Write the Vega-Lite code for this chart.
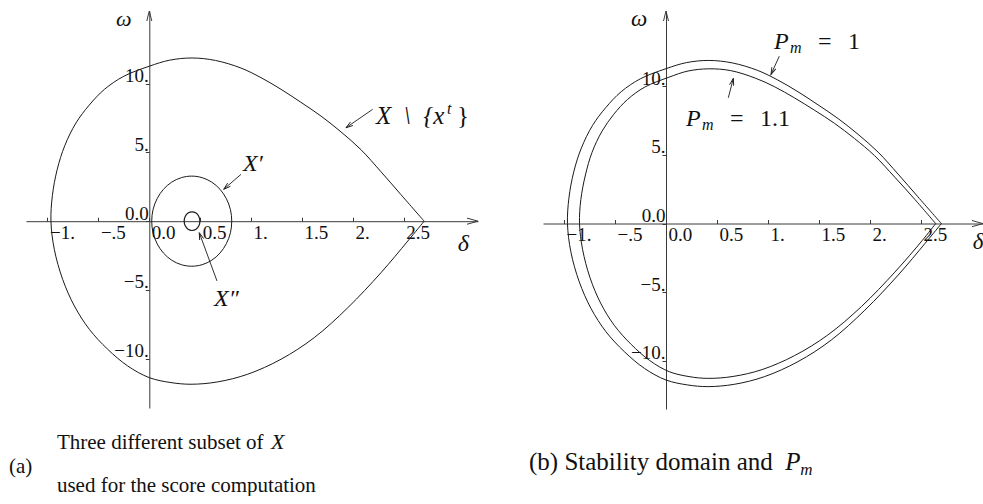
{
  "$schema": "https://vega.github.io/schema/vega-lite/v6.json",
  "padding": {"left": 8, "top": 8, "right": 0, "bottom": 0},
  "bounds": "flush",
  "spacing": 65,
  "config": {
    "view": {"stroke": null},
    "axis": {
      "grid": false,
      "title": null,
      "domainColor": "#3a3a3a",
      "domainWidth": 1,
      "tickColor": "#3a3a3a",
      "labelColor": "#111111",
      "labelFont": "Liberation Serif",
      "labelFontSize": 19,
      "labelFlush": false,
      "labelOverlap": false,
      "labelBound": false
    },
    "text": {"font": "Liberation Serif", "color": "#111111"}
  },
  "datasets": {
    "pm1": [
      {"i": 0, "d": 2.70, "w": 0},
      {"i": 1, "d": 2.47, "w": 1.95},
      {"i": 2, "d": 2.276, "w": 3.6},
      {"i": 3, "d": 2.08, "w": 5.2},
      {"i": 4, "d": 1.883, "w": 6.5},
      {"i": 5, "d": 1.687, "w": 7.65},
      {"i": 6, "d": 1.49, "w": 8.65},
      {"i": 7, "d": 1.294, "w": 9.6},
      {"i": 8, "d": 1.097, "w": 10.45},
      {"i": 9, "d": 0.9, "w": 11.15},
      {"i": 10, "d": 0.65, "w": 11.7},
      {"i": 11, "d": 0.42, "w": 11.88},
      {"i": 12, "d": 0.2, "w": 11.72},
      {"i": 13, "d": 0, "w": 11.28},
      {"i": 14, "d": -0.25, "w": 10.55},
      {"i": 15, "d": -0.44, "w": 9.6},
      {"i": 16, "d": -0.59, "w": 8.45},
      {"i": 17, "d": -0.72, "w": 7.15},
      {"i": 18, "d": -0.83, "w": 5.5},
      {"i": 19, "d": -0.905, "w": 3.75},
      {"i": 20, "d": -0.952, "w": 1.85},
      {"i": 21, "d": -0.966, "w": 0},
      {"i": 22, "d": -0.933, "w": -2.05},
      {"i": 23, "d": -0.851, "w": -4.23},
      {"i": 24, "d": -0.736, "w": -6.17},
      {"i": 25, "d": -0.589, "w": -7.87},
      {"i": 26, "d": -0.409, "w": -9.32},
      {"i": 27, "d": -0.212, "w": -10.54},
      {"i": 28, "d": 0, "w": -11.39},
      {"i": 29, "d": 0.213, "w": -11.75},
      {"i": 30, "d": 0.41, "w": -11.87},
      {"i": 31, "d": 0.672, "w": -11.7},
      {"i": 32, "d": 0.967, "w": -11.14},
      {"i": 33, "d": 1.294, "w": -10.05},
      {"i": 34, "d": 1.62, "w": -8.48},
      {"i": 35, "d": 1.95, "w": -6.3},
      {"i": 36, "d": 2.276, "w": -3.75},
      {"i": 37, "d": 2.54, "w": -1.44},
      {"i": 38, "d": 2.70, "w": 0}
    ],
    "pm11": [
      {"i": 0, "d": 2.644, "w": 0},
      {"i": 1, "d": 2.44, "w": 1.76},
      {"i": 2, "d": 2.243, "w": 3.38},
      {"i": 3, "d": 2.046, "w": 4.94},
      {"i": 4, "d": 1.849, "w": 6.19},
      {"i": 5, "d": 1.652, "w": 7.30},
      {"i": 6, "d": 1.455, "w": 8.26},
      {"i": 7, "d": 1.258, "w": 9.16},
      {"i": 8, "d": 1.063, "w": 9.97},
      {"i": 9, "d": 0.873, "w": 10.6},
      {"i": 10, "d": 0.634, "w": 11.14},
      {"i": 11, "d": 0.42, "w": 11.27},
      {"i": 12, "d": 0.216, "w": 11.11},
      {"i": 13, "d": 0.029, "w": 10.66},
      {"i": 14, "d": -0.208, "w": 9.94},
      {"i": 15, "d": -0.377, "w": 9.04},
      {"i": 16, "d": -0.512, "w": 7.96},
      {"i": 17, "d": -0.627, "w": 6.73},
      {"i": 18, "d": -0.725, "w": 5.19},
      {"i": 19, "d": -0.79, "w": 3.54},
      {"i": 20, "d": -0.835, "w": 1.75},
      {"i": 21, "d": -0.848, "w": 0},
      {"i": 22, "d": -0.818, "w": -1.88},
      {"i": 23, "d": -0.745, "w": -3.94},
      {"i": 24, "d": -0.641, "w": -5.79},
      {"i": 25, "d": -0.508, "w": -7.40},
      {"i": 26, "d": -0.341, "w": -8.80},
      {"i": 27, "d": -0.16, "w": -9.97},
      {"i": 28, "d": 0.031, "w": -10.78},
      {"i": 29, "d": 0.226, "w": -11.14},
      {"i": 30, "d": 0.41, "w": -11.27},
      {"i": 31, "d": 0.658, "w": -11.13},
      {"i": 32, "d": 0.942, "w": -10.63},
      {"i": 33, "d": 1.261, "w": -9.61},
      {"i": 34, "d": 1.583, "w": -8.13},
      {"i": 35, "d": 1.916, "w": -6.04},
      {"i": 36, "d": 2.244, "w": -3.53},
      {"i": 37, "d": 2.51, "w": -1.25},
      {"i": 38, "d": 2.644, "w": 0}
    ],
    "xprime": [
      {"i": 0, "d": 0.810, "w": 0},
      {"i": 1, "d": 0.797, "w": 0.849},
      {"i": 2, "d": 0.757, "w": 1.64},
      {"i": 3, "d": 0.695, "w": 2.319},
      {"i": 4, "d": 0.614, "w": 2.841},
      {"i": 5, "d": 0.519, "w": 3.168},
      {"i": 6, "d": 0.417, "w": 3.28},
      {"i": 7, "d": 0.315, "w": 3.168},
      {"i": 8, "d": 0.220, "w": 2.841},
      {"i": 9, "d": 0.139, "w": 2.319},
      {"i": 10, "d": 0.077, "w": 1.64},
      {"i": 11, "d": 0.037, "w": 0.849},
      {"i": 12, "d": 0.024, "w": 0},
      {"i": 13, "d": 0.037, "w": -0.849},
      {"i": 14, "d": 0.077, "w": -1.64},
      {"i": 15, "d": 0.139, "w": -2.319},
      {"i": 16, "d": 0.220, "w": -2.841},
      {"i": 17, "d": 0.315, "w": -3.168},
      {"i": 18, "d": 0.417, "w": -3.28},
      {"i": 19, "d": 0.519, "w": -3.168},
      {"i": 20, "d": 0.614, "w": -2.841},
      {"i": 21, "d": 0.695, "w": -2.319},
      {"i": 22, "d": 0.757, "w": -1.64},
      {"i": 23, "d": 0.797, "w": -0.849}
    ],
    "xsecond": [
      {"i": 0, "d": 0.497, "w": 0},
      {"i": 1, "d": 0.487, "w": 0.34},
      {"i": 2, "d": 0.459, "w": 0.589},
      {"i": 3, "d": 0.42, "w": 0.68},
      {"i": 4, "d": 0.381, "w": 0.589},
      {"i": 5, "d": 0.353, "w": 0.34},
      {"i": 6, "d": 0.343, "w": 0},
      {"i": 7, "d": 0.353, "w": -0.34},
      {"i": 8, "d": 0.381, "w": -0.589},
      {"i": 9, "d": 0.42, "w": -0.68},
      {"i": 10, "d": 0.459, "w": -0.589},
      {"i": 11, "d": 0.487, "w": -0.34}
    ],
    "arrowsA": [
      {"name": "outer", "d": 1.932, "w": 6.80, "d2": 2.194, "w2": 8.14},
      {"name": "prime", "d": 0.731, "w": 2.32, "d2": 0.901, "w2": 3.41},
      {"name": "second", "d": 0.491, "w": -0.84, "d2": 0.665, "w2": -4.35}
    ],
    "arrowsB": [
      {"name": "pm1", "d": 1.029, "w": 10.86, "d2": 1.111, "w2": 12.19},
      {"name": "pm11", "d": 0.66, "w": 10.57, "d2": 0.611, "w2": 9.16}
    ],
    "pmLabels": [
      {"d": 1.059, "w": 12.69, "num": "1"},
      {"d": 0.196, "w": 7.10, "num": "1.1"}
    ]
  },
  "hconcat": [
    {
      "width": 452,
      "height": 397,
      "layer": [
        {
          "data": {"name": "pm1"},
          "mark": {"type": "line", "interpolate": "catmull-rom", "color": "#1a1a1a", "strokeWidth": 1},
          "encoding": {
            "x": {
              "field": "d", "type": "quantitative",
              "scale": {"domain": [-1.211, 3.229], "nice": false, "zero": false},
              "axis": {
                "orient": "bottom", "offset": -186.8,
                "values": [-1, -0.5, 0, 0.5, 1, 1.5, 2, 2.5],
                "labelExpr": "datum.value == 0 ? '0.0' : datum.value == -0.5 ? '−.5' : datum.value < 0 ? '−' + abs(datum.value) + '.' : datum.value % 1 == 0 ? datum.value + '.' : '' + datum.value",
                "tickSize": -4, "labelPadding": 21, "labelAlign": "left", "labelBaseline": "alphabetic", "labelOffset": 2
              }
            },
            "y": {
              "field": "w", "type": "quantitative",
              "scale": {"domain": [-13.6, 15.3], "nice": false, "zero": false},
              "axis": {
                "orient": "left", "offset": -123.3,
                "values": [-10, -5, 0, 5, 10],
                "labelExpr": "datum.value == 0 ? '0.0' : datum.value < 0 ? '−' + abs(datum.value) + '.' : datum.value + '.'",
                "tickSize": 4, "labelPadding": -3, "labelAlign": "right", "labelBaseline": "alphabetic", "labelOffset": -2
              }
            },
            "order": {"field": "i", "type": "quantitative"}
          }
        },
        {
          "data": {"name": "xprime"},
          "mark": {"type": "line", "interpolate": "cardinal-closed", "color": "#1a1a1a", "strokeWidth": 1},
          "encoding": {
            "x": {"field": "d", "type": "quantitative"},
            "y": {"field": "w", "type": "quantitative"},
            "order": {"field": "i", "type": "quantitative"}
          }
        },
        {
          "data": {"name": "xsecond"},
          "mark": {"type": "line", "interpolate": "cardinal-closed", "color": "#1a1a1a", "strokeWidth": 1.2},
          "encoding": {
            "x": {"field": "d", "type": "quantitative"},
            "y": {"field": "w", "type": "quantitative"},
            "order": {"field": "i", "type": "quantitative"}
          }
        },
        {
          "data": {"name": "arrowsA"},
          "mark": {"type": "rule", "color": "#1a1a1a", "strokeWidth": 0.9},
          "encoding": {
            "x": {"field": "d", "type": "quantitative"},
            "y": {"field": "w", "type": "quantitative"},
            "x2": {"field": "d2"},
            "y2": {"field": "w2"}
          }
        },
        {
          "data": {"name": "arrowsA"},
          "transform": [{"filter": "datum.name == 'outer'"}],
          "mark": {"type": "point", "shape": "M-0.3,1L0,0L0.3,1", "size": 196, "filled": false, "stroke": "#1a1a1a", "strokeWidth": 0.9, "opacity": 1, "angle": 235},
          "encoding": {"x": {"field": "d", "type": "quantitative"}, "y": {"field": "w", "type": "quantitative"}}
        },
        {
          "data": {"name": "arrowsA"},
          "transform": [{"filter": "datum.name == 'prime'"}],
          "mark": {"type": "point", "shape": "M-0.3,1L0,0L0.3,1", "size": 196, "filled": false, "stroke": "#1a1a1a", "strokeWidth": 0.9, "opacity": 1, "angle": 229},
          "encoding": {"x": {"field": "d", "type": "quantitative"}, "y": {"field": "w", "type": "quantitative"}}
        },
        {
          "data": {"name": "arrowsA"},
          "transform": [{"filter": "datum.name == 'second'"}],
          "mark": {"type": "point", "shape": "M-0.3,1L0,0L0.3,1", "size": 196, "filled": false, "stroke": "#1a1a1a", "strokeWidth": 0.9, "opacity": 1, "angle": 340},
          "encoding": {"x": {"field": "d", "type": "quantitative"}, "y": {"field": "w", "type": "quantitative"}}
        },
        {
          "data": {"values": [{"d": 3.229, "w": 0}]},
          "mark": {"type": "point", "shape": "M-0.28,1L0,0L0.28,1", "size": 484, "filled": false, "stroke": "#3a3a3a", "strokeWidth": 1, "opacity": 1, "angle": 90},
          "encoding": {"x": {"field": "d", "type": "quantitative"}, "y": {"field": "w", "type": "quantitative"}}
        },
        {
          "data": {"values": [{"d": 0, "w": 15.3}]},
          "mark": {"type": "point", "shape": "M-0.25,1L0,0L0.25,1", "size": 400, "filled": false, "stroke": "#3a3a3a", "strokeWidth": 1, "opacity": 1},
          "encoding": {"x": {"field": "d", "type": "quantitative"}, "y": {"field": "w", "type": "quantitative"}}
        },
        {
          "data": {"values": [{"d": 2.227, "w": 7.10, "label": "X\u2002\\\u2002{x"}]},
          "mark": {"type": "text", "align": "left", "baseline": "alphabetic", "fontStyle": "italic", "fontSize": 25},
          "encoding": {
            "x": {"field": "d", "type": "quantitative"},
            "y": {"field": "w", "type": "quantitative"},
            "text": {"field": "label"}
          }
        },
        {
          "data": {"values": [{"d": 2.227, "w": 7.10, "label": "t"}]},
          "mark": {"type": "text", "align": "left", "baseline": "alphabetic", "fontStyle": "italic", "fontSize": 16, "dx": 71, "dy": -10},
          "encoding": {
            "x": {"field": "d", "type": "quantitative"},
            "y": {"field": "w", "type": "quantitative"},
            "text": {"field": "label"}
          }
        },
        {
          "data": {"values": [{"d": 2.227, "w": 7.10, "label": "}"}]},
          "mark": {"type": "text", "align": "left", "baseline": "alphabetic", "fontSize": 25, "dx": 81},
          "encoding": {
            "x": {"field": "d", "type": "quantitative"},
            "y": {"field": "w", "type": "quantitative"},
            "text": {"field": "label"}
          }
        },
        {
          "data": {"values": [
            {"d": 0.920, "w": 3.65, "label": "X′"},
            {"d": 0.636, "w": -6.17, "label": "X″"},
            {"d": 3.03, "w": -2.17, "label": "δ"}
          ]},
          "mark": {"type": "text", "align": "left", "baseline": "alphabetic", "fontStyle": "italic", "fontSize": 24},
          "encoding": {
            "x": {"field": "d", "type": "quantitative"},
            "y": {"field": "w", "type": "quantitative"},
            "text": {"field": "label"}
          }
        },
        {
          "data": {"values": [{"d": -0.327, "w": 14.2, "label": "ω"}]},
          "mark": {"type": "text", "align": "left", "baseline": "alphabetic", "fontStyle": "italic", "fontSize": 22},
          "encoding": {
            "x": {"field": "d", "type": "quantitative"},
            "y": {"field": "w", "type": "quantitative"},
            "text": {"field": "label"}
          }
        },
        {
          "data": {"values": [
            {"d": -1.378, "w": -18.33, "label": "(a)"},
            {"d": -0.907, "w": -16.58, "label": "Three different subset of"},
            {"d": -0.907, "w": -19.7, "label": "used for the score computation"}
          ]},
          "mark": {"type": "text", "align": "left", "baseline": "alphabetic", "fontSize": 21},
          "encoding": {
            "x": {"field": "d", "type": "quantitative"},
            "y": {"field": "w", "type": "quantitative"},
            "text": {"field": "label"}
          }
        },
        {
          "data": {"values": [{"d": 1.195, "w": -16.58, "label": "X"}]},
          "mark": {"type": "text", "align": "left", "baseline": "alphabetic", "fontStyle": "italic", "fontSize": 22},
          "encoding": {
            "x": {"field": "d", "type": "quantitative"},
            "y": {"field": "w", "type": "quantitative"},
            "text": {"field": "label"}
          }
        }
      ]
    },
    {
      "width": 440,
      "height": 398,
      "layer": [
        {
          "data": {"name": "pm1"},
          "mark": {"type": "line", "interpolate": "catmull-rom", "color": "#1a1a1a", "strokeWidth": 1},
          "encoding": {
            "x": {
              "field": "d", "type": "quantitative",
              "scale": {"domain": [-1.206, 3.108], "nice": false, "zero": false},
              "axis": {
                "orient": "bottom", "offset": -185.5,
                "values": [-1, -0.5, 0, 0.5, 1, 1.5, 2, 2.5],
                "labelExpr": "datum.value == 0 ? '0.0' : datum.value == -0.5 ? '−.5' : datum.value < 0 ? '−' + abs(datum.value) + '.' : datum.value % 1 == 0 ? datum.value + '.' : '' + datum.value",
                "tickSize": -4, "labelPadding": 21, "labelAlign": "left", "labelBaseline": "alphabetic", "labelOffset": 2
              }
            },
            "y": {
              "field": "w", "type": "quantitative",
              "scale": {"domain": [-13.5, 15.48], "nice": false, "zero": false},
              "axis": {
                "orient": "left", "offset": -123,
                "values": [-10, -5, 0, 5, 10],
                "labelExpr": "datum.value == 0 ? '0.0' : datum.value < 0 ? '−' + abs(datum.value) + '.' : datum.value + '.'",
                "tickSize": 4, "labelPadding": -3, "labelAlign": "right", "labelBaseline": "alphabetic", "labelOffset": -2
              }
            },
            "order": {"field": "i", "type": "quantitative"}
          }
        },
        {
          "data": {"name": "pm11"},
          "mark": {"type": "line", "interpolate": "catmull-rom", "color": "#1a1a1a", "strokeWidth": 1},
          "encoding": {
            "x": {"field": "d", "type": "quantitative"},
            "y": {"field": "w", "type": "quantitative"},
            "order": {"field": "i", "type": "quantitative"}
          }
        },
        {
          "data": {"name": "arrowsB"},
          "mark": {"type": "rule", "color": "#1a1a1a", "strokeWidth": 0.9},
          "encoding": {
            "x": {"field": "d", "type": "quantitative"},
            "y": {"field": "w", "type": "quantitative"},
            "x2": {"field": "d2"},
            "y2": {"field": "w2"}
          }
        },
        {
          "data": {"name": "arrowsB"},
          "transform": [{"filter": "datum.name == 'pm1'"}],
          "mark": {"type": "point", "shape": "M-0.3,1L0,0L0.3,1", "size": 196, "filled": false, "stroke": "#1a1a1a", "strokeWidth": 0.9, "opacity": 1, "angle": 204},
          "encoding": {"x": {"field": "d", "type": "quantitative"}, "y": {"field": "w", "type": "quantitative"}}
        },
        {
          "data": {"name": "arrowsB"},
          "transform": [{"filter": "datum.name == 'pm11'"}],
          "mark": {"type": "point", "shape": "M-0.3,1L0,0L0.3,1", "size": 196, "filled": false, "stroke": "#1a1a1a", "strokeWidth": 0.9, "opacity": 1, "angle": 14},
          "encoding": {"x": {"field": "d", "type": "quantitative"}, "y": {"field": "w", "type": "quantitative"}}
        },
        {
          "data": {"values": [{"d": 3.108, "w": 0}]},
          "mark": {"type": "point", "shape": "M-0.28,1L0,0L0.28,1", "size": 484, "filled": false, "stroke": "#3a3a3a", "strokeWidth": 1, "opacity": 1, "angle": 90},
          "encoding": {"x": {"field": "d", "type": "quantitative"}, "y": {"field": "w", "type": "quantitative"}}
        },
        {
          "data": {"values": [{"d": 0, "w": 15.48}]},
          "mark": {"type": "point", "shape": "M-0.25,1L0,0L0.25,1", "size": 400, "filled": false, "stroke": "#3a3a3a", "strokeWidth": 1, "opacity": 1},
          "encoding": {"x": {"field": "d", "type": "quantitative"}, "y": {"field": "w", "type": "quantitative"}}
        },
        {
          "data": {"name": "pmLabels"},
          "mark": {"type": "text", "align": "left", "baseline": "alphabetic", "fontStyle": "italic", "fontSize": 24},
          "encoding": {
            "x": {"field": "d", "type": "quantitative"},
            "y": {"field": "w", "type": "quantitative"},
            "text": {"value": "P"}
          }
        },
        {
          "data": {"name": "pmLabels"},
          "mark": {"type": "text", "align": "left", "baseline": "alphabetic", "fontStyle": "italic", "fontSize": 16, "dx": 16, "dy": 4},
          "encoding": {
            "x": {"field": "d", "type": "quantitative"},
            "y": {"field": "w", "type": "quantitative"},
            "text": {"value": "m"}
          }
        },
        {
          "data": {"name": "pmLabels"},
          "mark": {"type": "text", "align": "left", "baseline": "alphabetic", "fontSize": 24, "dx": 44},
          "encoding": {
            "x": {"field": "d", "type": "quantitative"},
            "y": {"field": "w", "type": "quantitative"},
            "text": {"value": "="}
          }
        },
        {
          "data": {"name": "pmLabels"},
          "mark": {"type": "text", "align": "left", "baseline": "alphabetic", "fontSize": 24, "dx": 74},
          "encoding": {
            "x": {"field": "d", "type": "quantitative"},
            "y": {"field": "w", "type": "quantitative"},
            "text": {"field": "num"}
          }
        },
        {
          "data": {"values": [
            {"d": -0.343, "w": 14.38, "label": "ω"},
            {"d": 3.007, "w": -1.86, "label": "δ"}
          ]},
          "mark": {"type": "text", "align": "left", "baseline": "alphabetic", "fontStyle": "italic", "fontSize": 23},
          "encoding": {
            "x": {"field": "d", "type": "quantitative"},
            "y": {"field": "w", "type": "quantitative"},
            "text": {"field": "label"}
          }
        },
        {
          "data": {"values": [{"d": 1.17, "w": -17.95, "label": "P"}]},
          "mark": {"type": "text", "align": "left", "baseline": "alphabetic", "fontStyle": "italic", "fontSize": 25},
          "encoding": {
            "x": {"field": "d", "type": "quantitative"},
            "y": {"field": "w", "type": "quantitative"},
            "text": {"field": "label"}
          }
        },
        {
          "data": {"values": [{"d": 1.17, "w": -17.95, "label": "m"}]},
          "mark": {"type": "text", "align": "left", "baseline": "alphabetic", "fontStyle": "italic", "fontSize": 17, "dx": 15, "dy": 5},
          "encoding": {
            "x": {"field": "d", "type": "quantitative"},
            "y": {"field": "w", "type": "quantitative"},
            "text": {"field": "label"}
          }
        },
        {
          "data": {"values": [{"d": -1.343, "w": -17.95, "label": "(b) Stability domain and"}]},
          "mark": {"type": "text", "align": "left", "baseline": "alphabetic", "fontSize": 25},
          "encoding": {
            "x": {"field": "d", "type": "quantitative"},
            "y": {"field": "w", "type": "quantitative"},
            "text": {"field": "label"}
          }
        }
      ]
    }
  ]
}
